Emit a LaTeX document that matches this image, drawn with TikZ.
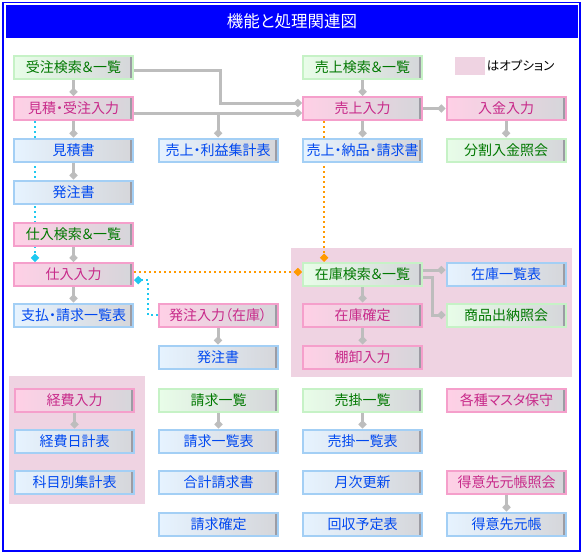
\documentclass[tikz,border=0pt]{standalone}
\usepackage{fontspec}
\setmainfont{Noto Sans CJK JP}[RawFeature=+palt]
\usetikzlibrary{arrows.meta}
\definecolor{titleblue}{HTML}{0000FF}
\definecolor{optpink}{HTML}{EFD3E2}
\definecolor{linkgray}{HTML}{BDBDBD}
\definecolor{boxgray}{HTML}{D5D6DA}
\definecolor{edgegray}{HTML}{9C9CA4}
\definecolor{grnline}{HTML}{C6F2C6}
\definecolor{grnfill}{HTML}{E8FDE8}
\definecolor{grntext}{HTML}{007800}
\definecolor{pnkline}{HTML}{F59FCB}
\definecolor{pnkfill}{HTML}{FFD0E6}
\definecolor{pnktext}{HTML}{C82A8A}
\definecolor{bluline}{HTML}{A3CFF5}
\definecolor{blufill}{HTML}{E6F3FF}
\definecolor{blutext}{HTML}{0048F0}
\definecolor{dotcyan}{HTML}{1EC8F0}
\definecolor{dotorange}{HTML}{FF9A00}
\pgfdeclarelayer{back}
\pgfdeclarelayer{wires}
\pgfsetlayers{back,wires,main}
\tikzset{
    box/.style={minimum width=119pt, minimum height=23pt, inner sep=0pt, line width=2pt,
      font=\fontsize{14}{15}\selectfont,
      path picture={\draw[edgegray, line width=3pt]
        ([xshift=-1.5pt]path picture bounding box.north east) -- ([xshift=-1.5pt]path picture bounding box.south east);}},
    gbox/.style={box, draw=grnline, left color=grnfill, right color=boxgray, text=grntext},
    pbox/.style={box, draw=pnkline, left color=pnkfill, right color=boxgray, text=pnktext},
    bbox/.style={box, draw=bluline, left color=blufill, right color=boxgray, text=blutext},
    link/.style={draw=linkgray, line width=3pt, -{Diamond[length=8.5pt,width=8.5pt]}},
    cyanlink/.style={draw=dotcyan, line width=2pt, dash pattern=on 2pt off 3pt, -{Diamond[length=8.5pt,width=8.5pt]}},
    orangelink/.style={cyanlink, draw=dotorange}
}
\begin{document}
\begin{tikzpicture}[x=1pt, y=-1pt]
    \useasboundingbox (0,0) rectangle (584,554);
    \begin{pgfonlayer}{back}
      \fill[white] (0,0) rectangle (584,554);
      \draw[titleblue, line width=1.3pt] (3,2.5) rectangle (580,551);
      \fill[titleblue] (6,5) rectangle (578,38);
      \fill[optpink] (291,248) rectangle (572,377);
      \fill[optpink] (9,376) rectangle (145,504);
    \end{pgfonlayer}
    \node[text=white, font=\fontsize{16.5}{18}\selectfont] (title) at (292,21.5) {機能と処理関連図};
    \node[fill=optpink, minimum width=30pt, minimum height=18pt, inner sep=0pt] (optkey) at (470,66) {};
    \node[anchor=west, inner sep=1.5pt, font=\fontsize{12.5}{14}\selectfont] (optlabel) at (optkey.east) {はオプション};

    \node[gbox] (juchu) at (73.5,67.5) {受注検索＆一覧};
    \node[pbox] (mitsu) at (73.5,108.5) {見積・受注入力};
    \node[bbox] (mitsusho) at (73.5,150) {見積書};
    \node[bbox] (hatchusho) at (73.5,192) {発注書};
    \node[pbox, text=grntext] (shiirek) at (73.5,234) {仕入検索＆一覧};
    \node[pbox] (shiire) at (73.5,274.5) {仕入入力};
    \node[bbox] (shiharai) at (73.5,315) {支払・請求一覧表};
    \node[bbox] (urieki) at (218,150) {売上・利益集計表};
    \node[pbox] (hatchuz) at (218,315) {発注入力（在庫）};
    \node[bbox] (hatchusho2) at (218,357) {発注書};
    \node[gbox] (uriagek) at (362.5,67.5) {売上検索＆一覧};
    \node[pbox] (uriage) at (362.5,108.5) {売上入力};
    \node[bbox] (nohin) at (362.5,150) {売上・納品・請求書};
    \node[gbox] (zaikok) at (362.5,274.5) {在庫検索＆一覧};
    \node[pbox] (zaikokak) at (362.5,315) {在庫確定};
    \node[pbox] (tanaoroshi) at (362.5,357) {棚卸入力};
    \node[pbox] (nyukin) at (506,108.5) {入金入力};
    \node[gbox] (bunkatsu) at (506,150) {分割入金照会};
    \node[bbox] (zaikohyo) at (506,274.5) {在庫一覧表};
    \node[gbox] (shohin) at (506,315) {商品出納照会};

    \node[pbox] (keihi) at (74.5,400) {経費入力};
    \node[bbox] (nikkei) at (74.5,441) {経費日計表};
    \node[bbox] (kamoku) at (74.5,482) {科目別集計表};
    \node[gbox] (seikyuk) at (218.5,400) {請求一覧};
    \node[bbox] (seikyuhyo) at (218.5,441) {請求一覧表};
    \node[bbox] (gokei) at (218.5,482) {合計請求書};
    \node[bbox] (seikyukak) at (218.5,524) {請求確定};
    \node[gbox] (urikakek) at (362.5,400) {売掛一覧};
    \node[bbox] (urikakehyo) at (362.5,441) {売掛一覧表};
    \node[bbox] (getsuji) at (362.5,482) {月次更新};
    \node[bbox] (kaishu) at (362.5,524) {回収予定表};
    \node[pbox] (master) at (506.5,400) {各種マスタ保守};
    \node[pbox] (motochok) at (506.5,482) {得意先元帳照会};
    \node[bbox] (motocho) at (506.5,524) {得意先元帳};

    \begin{pgfonlayer}{wires}
      \draw[link] (juchu) -- (mitsu);
      \draw[link] (mitsu) -- (mitsusho);
      \draw[link] (mitsusho) -- (hatchusho);
      \draw[link] (shiirek) -- (shiire);
      \draw[link] (shiire) -- (shiharai);
      \draw[link] ([yshift=-3pt]juchu.east) -| ([xshift=-82pt,yshift=5.5pt]uriage.west) -- ([yshift=5.5pt]uriage.west);
      \draw[link] ([yshift=-4.5pt]mitsu.east) -- ([yshift=-4.5pt]uriage.west);
      \coordinate (fork) at ([yshift=-4.5pt]mitsu.east -| urieki.north);
      \draw[link] (fork) -- (urieki.north);
      \draw[link] (uriagek) -- (uriage);
      \draw[link] (uriage) -- (nohin);
      \draw[link] (uriage) -- (nyukin);
      \draw[link] (nyukin) -- (bunkatsu);
      \draw[link] (hatchuz) -- (hatchusho2);
      \draw[link] (zaikok) -- (zaikokak);
      \draw[link] (zaikokak) -- (tanaoroshi);
      \draw[link] ([yshift=4.5pt]zaikok.east) -- ([yshift=4.5pt]zaikohyo.west);
      \draw[link] ([yshift=-3pt]zaikok.east) -| ([xshift=-13pt]shohin.west) -- (shohin.west);
      \draw[link] (keihi) -- (nikkei);
      \draw[link] (seikyuk) -- (seikyuhyo);
      \draw[link] (urikakek) -- (urikakehyo);
      \draw[link] (motochok) -- (motocho);
      \draw[cyanlink] ([xshift=-38.5pt]mitsu.south) -- ([xshift=-38.5pt]shiire.north);
      \draw[cyanlink] (hatchuz.west) -| ([xshift=14pt,yshift=-5.5pt]shiire.east) -- ([yshift=-5.5pt]shiire.east);
      \draw[orangelink] ([yshift=2.5pt]shiire.east) -- ([yshift=2.5pt]zaikok.west);
      \draw[orangelink] ([xshift=-38.5pt]uriage.south) -- ([xshift=-38.5pt]zaikok.north);
    \end{pgfonlayer}
\end{tikzpicture}
\end{document}
